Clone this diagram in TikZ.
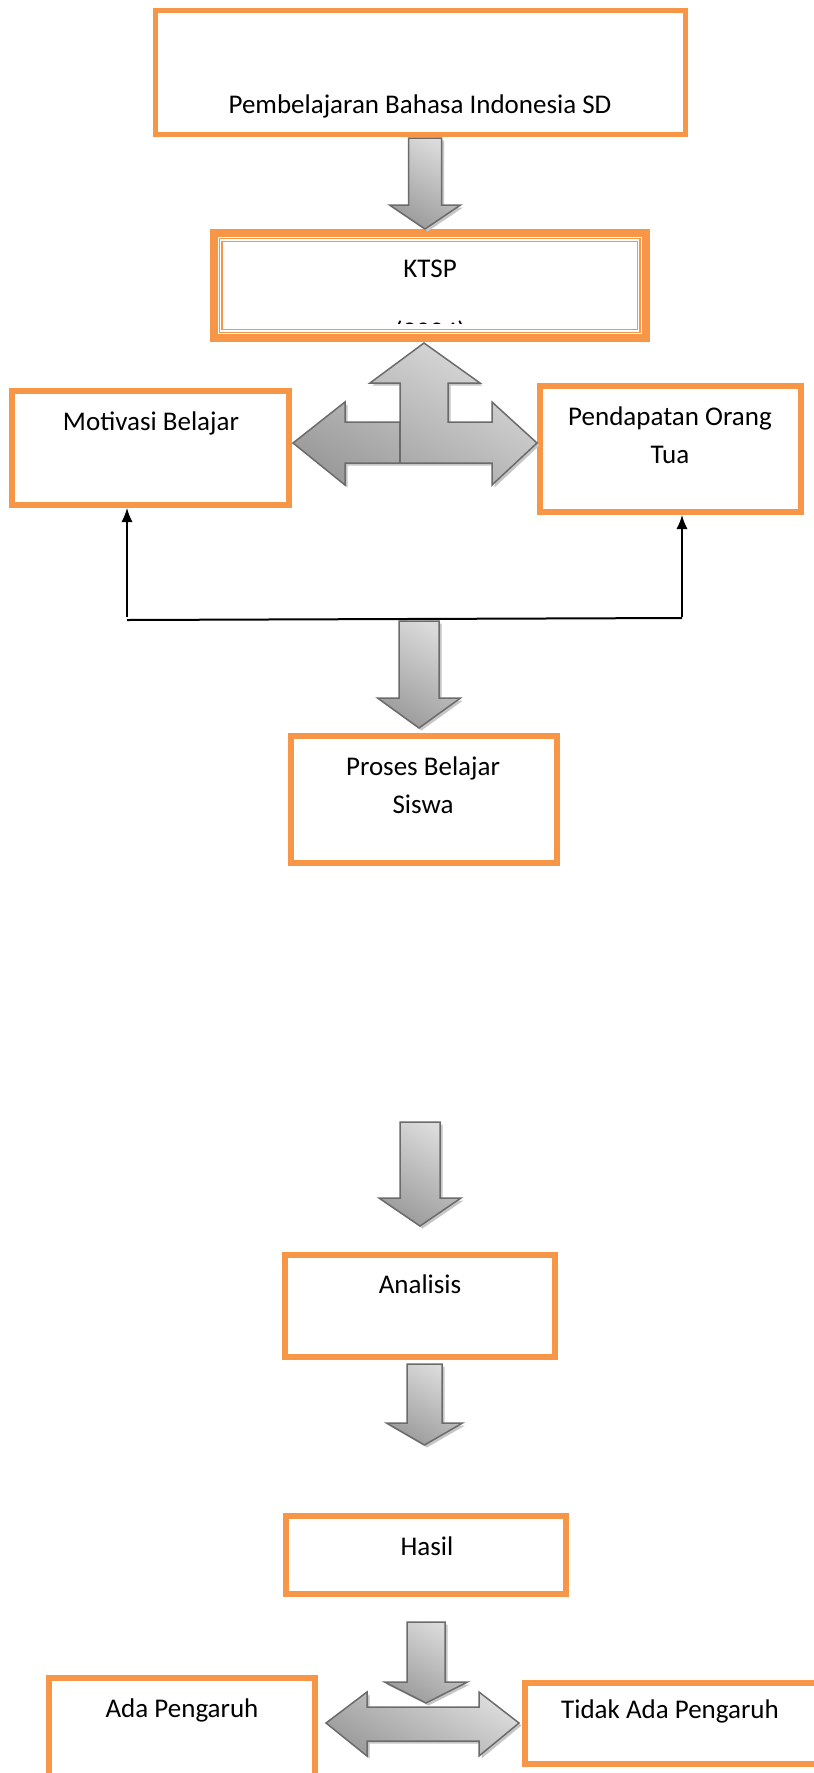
\documentclass[tikz,border=0pt]{standalone}
\usepackage{fontspec}
\setmainfont{Carlito}
\usetikzlibrary{arrows.meta,calc}
\definecolor{boxorange}{HTML}{F79646}
\definecolor{arrowedge}{HTML}{6B6B6B}
\newcommand\downblock[6]{% cx, top, halfshaft, wingy, halfwing, tip
  \fill[shadowfill] ({#1-#3+2.5},{#2+2.5}) -- ({#1+#3+2.5},{#2+2.5}) -- ({#1+#3+2.5},{#4+2.5}) -- ({#1+#5+2.5},{#4+2.5}) -- ({#1+2.5},{#6+2.5}) -- ({#1-#5+2.5},{#4+2.5}) -- ({#1-#3+2.5},{#4+2.5}) -- cycle;
  \path[barrow] ({#1-#3},#2) -- ({#1+#3},#2) -- ({#1+#3},#4) -- ({#1+#5},#4) -- (#1,#6) -- ({#1-#5},#4) -- ({#1-#3},#4) -- cycle;}
\begin{document}
\begin{tikzpicture}[x=1pt,y=-1pt,
  box/.style={draw=boxorange, rectangle, inner sep=0pt, fill=white},
  txt/.style={anchor=base, inner sep=0pt, font=\fontsize{27}{38}\selectfont},
  barrow/.style={draw=arrowedge, line width=1.5pt, line join=miter, top color=gray!28, bottom color=gray!78, shading angle=-30},
  shadowfill/.style={fill=gray!45, draw=none},
  conn/.style={line width=1.3pt, -{Latex[length=14pt,width=11pt]}}]
\clip (0,0) rectangle (814,1773);
\fill[white] (0,0) rectangle (814,1773);

% boxes
\node[box, line width=5pt, minimum width=530pt, minimum height=124pt] (top) at (420.5,72.5) {};
\node[box, line width=8pt, minimum width=432pt, minimum height=105pt] (ktsp) at (429.5,285.5) {};
\draw[boxorange, line width=1.1pt, double=white, double distance=1.8pt] ($(ktsp.center)+(-209,-45.5)$) rectangle ($(ktsp.center)+(209,45.5)$);
\node[box, line width=6pt, minimum width=277pt, minimum height=114pt] (mot) at (150.5,448) {};
\node[box, line width=6pt, minimum width=261pt, minimum height=126pt] (pend) at (670.5,449) {};
\node[box, line width=6pt, minimum width=266pt, minimum height=127pt] (proses) at (424,799.5) {};
\node[box, line width=6pt, minimum width=270pt, minimum height=102pt] (anal) at (420,1306) {};
\node[box, line width=6pt, minimum width=280pt, minimum height=78pt] (hasil) at (426,1555) {};
\node[box, line width=6pt, minimum width=266pt, minimum height=122pt] (ada) at (182,1739) {};
\node[box, line width=6pt, minimum width=315pt, minimum height=81pt] (tidak) at (682.5,1723.5) {};

% texts
\node[txt] (topT) at (420,113) {Pembelajaran Bahasa Indonesia SD};
\node[txt] (ktspT) at (430,277) {KTSP};
\begin{scope}
  \clip ($(ktsp.center)+(-209,-45)$) rectangle ($(ktsp.center)+(209,37.5)$);
  \node[txt] (yearT) at (430,340) {(2004)};
\end{scope}
\node[txt] (motT) at (151,430) {Motivasi Belajar};
\node[txt] (pendT) at (670,425) {\parbox[t]{300pt}{\centering Pendapatan Orang\\Tua}};
\node[txt] (prosesT) at (423,775) {\parbox[t]{260pt}{\centering Proses Belajar\\Siswa}};
\node[txt] (analT) at (420,1293) {Analisis};
\node[txt] (hasilT) at (427,1555) {Hasil};
\node[txt] (adaT) at (182,1717) {Ada Pengaruh};
\node[txt] (tidakT) at (670,1718) {Tidak Ada Pengaruh};

% block arrows down
\downblock{425}{138}{16.5}{205}{35.5}{229}
\downblock{419}{621}{20}{698}{41.5}{728}
\downblock{420}{1122}{20}{1198}{41}{1226}
\downblock{424.5}{1364}{17.5}{1423}{38}{1445}
\downblock{426}{1622}{19}{1682}{41.5}{1703}

% three-way arrow (up, left, right)
\fill[shadowfill] (426.5,345.5) -- (482.5,385.5) -- (450.5,385.5) -- (450.5,424.5) -- (494.5,424.5) -- (494.5,404.5) -- (539.5,445.5) -- (494.5,487.5) -- (494.5,465.5) -- (347.5,465.5) -- (347.5,487.5) -- (295.5,445.5) -- (347.5,404.5) -- (347.5,424.5) -- (402.5,424.5) -- (402.5,385.5) -- (372.5,385.5) -- cycle;
\path[barrow] (424,343) -- (480,383) -- (448,383) -- (448,422) -- (492,422) -- (492,402) -- (537,443) -- (492,485) -- (492,463) -- (345,463) -- (345,485) -- (293,443) -- (345,402) -- (345,422) -- (400,422) -- (400,383) -- (370,383) -- cycle;
\draw[arrowedge, line width=1.5pt] (400,421) -- (400,463);

% left-right arrow at bottom
\fill[shadowfill] (328.5,1725.5) -- (369.5,1694.5) -- (369.5,1709.5) -- (481.5,1709.5) -- (481.5,1694.5) -- (521.5,1725.5) -- (481.5,1758.5) -- (481.5,1743.5) -- (369.5,1743.5) -- (369.5,1758.5) -- cycle;
\path[barrow] (326,1723) -- (367,1692) -- (367,1707) -- (479,1707) -- (479,1692) -- (519,1723) -- (479,1756) -- (479,1741) -- (367,1741) -- (367,1756) -- cycle;

% connectors
\coordinate (jl) at (127,620);
\coordinate (jr) at (682,618);
\draw[line width=2pt] (jl) -- (jr);
\draw[conn] ($(jl)+(0,-3)$) -- (jl |- mot.south);
\draw[conn] ($(jr)+(0,-1)$) -- (jr |- pend.south);
\end{tikzpicture}
\end{document}
